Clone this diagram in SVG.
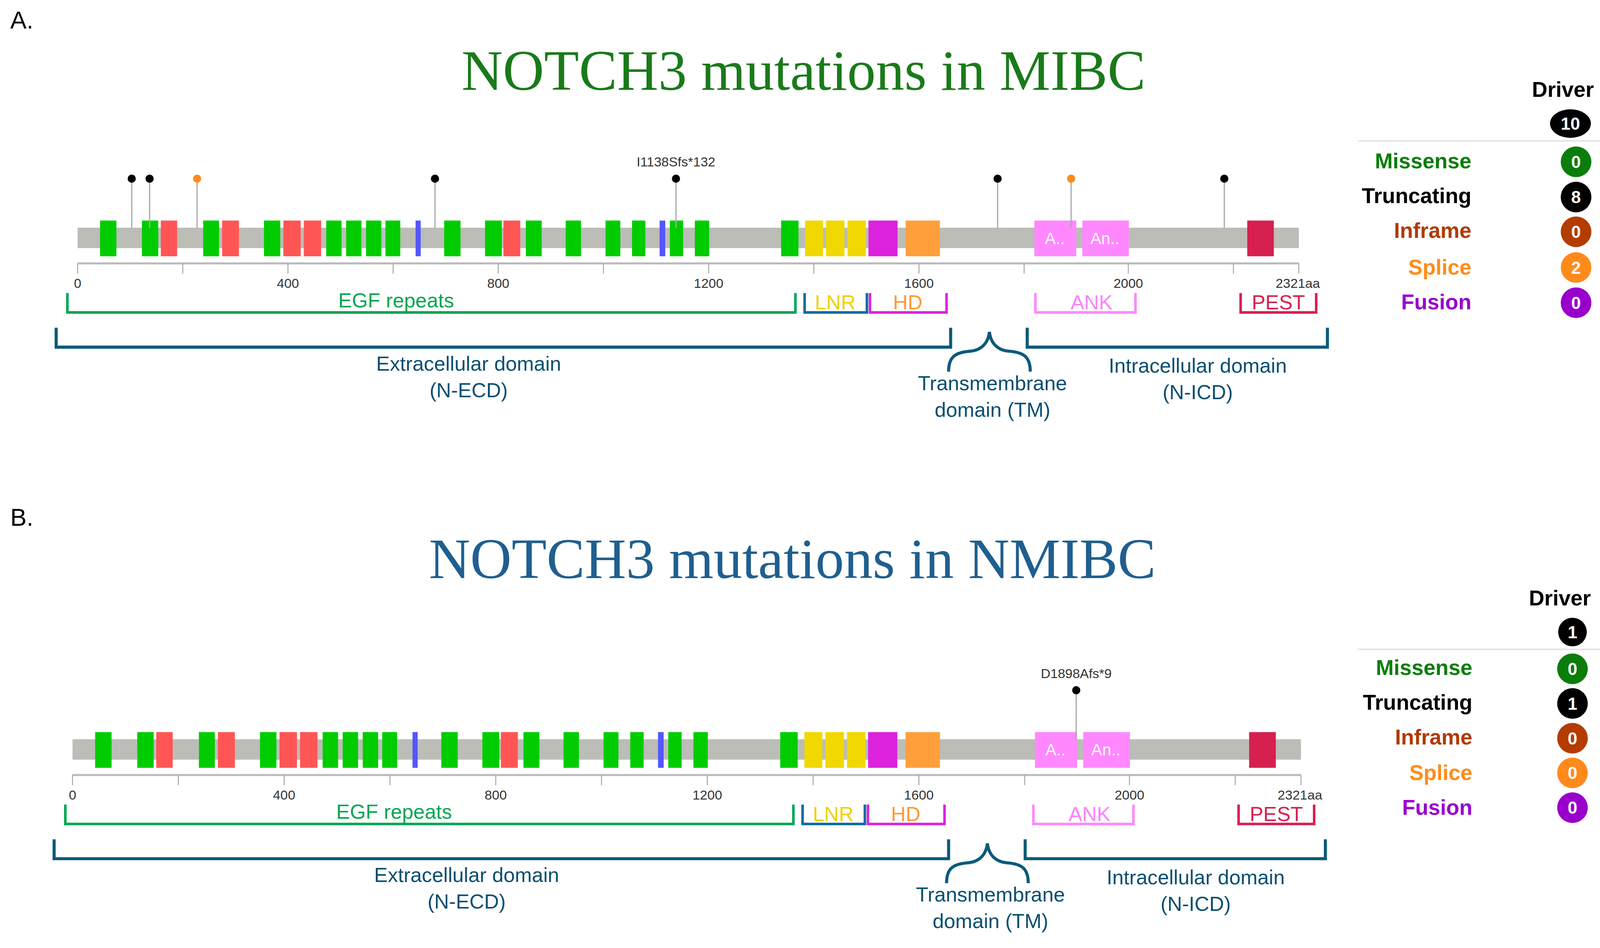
<svg xmlns="http://www.w3.org/2000/svg" xmlns:xlink="http://www.w3.org/1999/xlink" width="4133" height="2427" viewBox="0 0 4133 2427">
<style>
.t{font-family:"Liberation Sans",Arial,sans-serif}
.ttl{font-family:"Liberation Serif","Times New Roman",serif;font-size:56px;text-anchor:middle}
.g{fill:#00cc00}.r{fill:#ff5555}.b{fill:#5555ff}
.ax{font-family:"Liberation Sans",Arial,sans-serif;font-size:13px;fill:#333;text-anchor:middle}
.stem{stroke:#aaaaaa;stroke-width:1.2}
.br{fill:none;stroke-width:2.5}
.big{fill:none;stroke:#0b5a7a;stroke-width:3}
.dt{font-family:"Liberation Sans",Arial,sans-serif;font-size:20px;fill:#0a4f70;text-anchor:middle}
.lg{font-family:"Liberation Sans",Arial,sans-serif;font-size:21px;font-weight:bold;text-anchor:end}
.cn{font-family:"Liberation Sans",Arial,sans-serif;font-size:17px;font-weight:bold;fill:#fff;text-anchor:middle}
</style>
<defs>
<g id="body">
<rect x="76" y="223" width="1196" height="20" fill="#bbbdb6"/>
<rect class="g" x="98" y="216" width="16" height="35"/>
<rect class="g" x="139" y="216" width="16" height="35"/>
<rect class="r" x="157.5" y="216" width="16" height="35"/>
<rect class="g" x="199" y="216" width="15.5" height="35"/>
<rect class="r" x="217.5" y="216" width="16.5" height="35"/>
<rect class="g" x="258.5" y="216" width="16" height="35"/>
<rect class="r" x="277.5" y="216" width="17" height="35"/>
<rect class="r" x="297.5" y="216" width="17" height="35"/>
<rect class="g" x="319.5" y="216" width="15" height="35"/>
<rect class="g" x="339" y="216" width="15" height="35"/>
<rect class="g" x="358.5" y="216" width="15" height="35"/>
<rect class="g" x="377.5" y="216" width="14.5" height="35"/>
<rect class="b" x="407" y="216" width="5" height="35"/>
<rect class="g" x="435" y="216" width="16" height="35"/>
<rect class="g" x="475" y="216" width="16.5" height="35"/>
<rect class="r" x="493" y="216" width="16.5" height="35"/>
<rect class="g" x="515" y="216" width="15.5" height="35"/>
<rect class="g" x="554" y="216" width="15" height="35"/>
<rect class="g" x="593" y="216" width="14.5" height="35"/>
<rect class="g" x="619" y="216" width="13" height="35"/>
<rect class="b" x="646" y="216" width="5.5" height="35"/>
<rect class="g" x="656" y="216" width="13" height="35"/>
<rect class="g" x="680.5" y="216" width="14" height="35"/>
<rect class="g" x="765" y="216" width="17" height="35"/>
<rect x="788.5" y="216" width="17.5" height="35" fill="#f0d800"/>
<rect x="809" y="216" width="18" height="35" fill="#f0d800"/>
<rect x="830" y="216" width="18" height="35" fill="#f0d800"/>
<rect x="850.5" y="216" width="28.5" height="35" fill="#dd22dd"/>
<rect x="887" y="216" width="33.5" height="35" fill="#ff9f3c"/>
<rect x="1013" y="216" width="41" height="35" fill="#ff88ff"/>
<rect x="1060" y="216" width="45.5" height="35" fill="#ff88ff"/>
<text class="t" x="1033" y="239" font-size="16" fill="#fff" text-anchor="middle">A..</text>
<text class="t" x="1082" y="239" font-size="16" fill="#fff" text-anchor="middle">An..</text>
<rect x="1221.5" y="216" width="26" height="35" fill="#d62050"/>
<line x1="76" y1="258" x2="1272" y2="258" stroke="#bbbbbb" stroke-width="2"/>
<path d="M76 258V268M179 258V268M282 258V268M385 258V268M488 258V268M591 258V268M694 258V268M797 258V268M900 258V268M1003 258V268M1105 258V268M1208 258V268M1272 258V268" stroke="#aaaaaa" stroke-width="1"/>
<text class="ax" x="76" y="282">0</text>
<text class="ax" x="282" y="282">400</text>
<text class="ax" x="488" y="282">800</text>
<text class="ax" x="694" y="282">1200</text>
<text class="ax" x="900" y="282">1600</text>
<text class="ax" x="1105" y="282">2000</text>
<text class="ax" x="1271" y="282">2321aa</text>
</g>
<g id="doms">
<path class="br" stroke="#00a650" d="M66 287V306H779V287"/>
<text class="t" x="388" y="301" font-size="20" fill="#00a650" text-anchor="middle">EGF repeats</text>
<path class="br" stroke="#0a6e9e" d="M788 287V306H849V287"/>
<text class="t" x="818" y="303" font-size="20" fill="#f0d000" text-anchor="middle">LNR</text>
<path class="br" stroke="#dd22dd" d="M852 287V306H927V287"/>
<text class="t" x="889" y="303" font-size="20" fill="#ff9933" text-anchor="middle">HD</text>
<path class="br" stroke="#ff88ff" d="M1014 287V306H1112V287"/>
<text class="t" x="1069" y="303" font-size="20" fill="#ff80ff" text-anchor="middle">ANK</text>
<path class="br" stroke="#d62050" d="M1215 287V306H1289V287"/>
<text class="t" x="1252" y="303" font-size="20" fill="#d62050" text-anchor="middle">PEST</text>
<path class="big" d="M55 321V340H931V321"/>
<path class="big" d="M1006 321V340H1300V321"/>
<path class="big" d="M929 364C929 350 935 345 950 344C962 343 968 335 969 325C970 335 976 343 988 344C1003 345 1009 350 1009 364"/>
<text class="dt" x="459" y="363">Extracellular domain</text>
<text class="dt" x="459" y="389">(N-ECD)</text>
<text class="dt" x="972" y="382">Transmembrane</text>
<text class="dt" x="972" y="408">domain (TM)</text>
<text class="dt" x="1173" y="365">Intracellular domain</text>
<text class="dt" x="1173" y="391">(N-ICD)</text>
</g>
</defs>
<rect width="4133" height="2427" fill="#fff"/>
<g transform="scale(2.614)">
<g id="panelA">
<text class="t" x="10" y="28" font-size="24" fill="#000">A.</text>
<text class="ttl" x="787" y="88" fill="#1a7a1a" textLength="670" lengthAdjust="spacingAndGlyphs">NOTCH3 mutations in MIBC</text>
<g id="proteinA"><use xlink:href="#body"/><use xlink:href="#doms"/></g>
<g id="mutationsA">
<path class="stem" d="M129 176V223M146.5 176V223M193 176V223M426 176V223M662 176V223M977 176V223M1049 176V223M1199 176V223"/>
<circle cx="129" cy="175" r="4"/><circle cx="146.5" cy="175" r="4"/>
<circle cx="193" cy="175" r="4" fill="#ff8c1a"/>
<circle cx="426" cy="175" r="4"/><circle cx="662" cy="175" r="4"/>
<circle cx="977" cy="175" r="4"/>
<circle cx="1049" cy="175" r="4" fill="#ff8c1a"/>
<circle cx="1199" cy="175" r="4"/>
<text class="t" x="662" y="163" font-size="13" fill="#333" text-anchor="middle">I1138Sfs*132</text>
</g>
<g id="legendA">
<text class="t" x="1561" y="95" font-size="21" font-weight="bold" text-anchor="end">Driver</text>
<ellipse cx="1538" cy="121" rx="20" ry="14"/>
<text class="cn" x="1538" y="127">10</text>
<line x1="1330" y1="138" x2="1568" y2="138" stroke="#e4e4e4" stroke-width="1.5"/>
<text class="lg" x="1441" y="165" fill="#0a7d0a">Missense</text>
<text class="lg" x="1441" y="199" fill="#000">Truncating</text>
<text class="lg" x="1441" y="233" fill="#b03a00">Inframe</text>
<text class="lg" x="1441" y="269" fill="#ff8c1a">Splice</text>
<text class="lg" x="1441" y="303" fill="#9900cc">Fusion</text>
<circle cx="1543.5" cy="158.5" r="15" fill="#0b7d0b"/><text class="cn" x="1543.5" y="164.5">0</text>
<circle cx="1543.5" cy="193" r="15" fill="#000"/><text class="cn" x="1543.5" y="199">8</text>
<circle cx="1543.5" cy="227" r="15" fill="#b33c00"/><text class="cn" x="1543.5" y="233">0</text>
<circle cx="1543.5" cy="262" r="15" fill="#ff8a1c"/><text class="cn" x="1543.5" y="268">2</text>
<circle cx="1543.5" cy="296.5" r="15" fill="#9900cc"/><text class="cn" x="1543.5" y="302.5">0</text>
</g>
</g>
<g id="panelB">
<text class="t" x="10" y="515" font-size="24" fill="#000">B.</text>
<text class="ttl" x="776" y="566" fill="#1f5f8f" textLength="712" lengthAdjust="spacingAndGlyphs">NOTCH3 mutations in NMIBC</text>
<g id="proteinB">
<use xlink:href="#body" transform="translate(-5.4,501) scale(1.0059,1)"/>
<use xlink:href="#doms" transform="translate(-2,501)"/>
</g>
<g id="mutationsB">
<path class="stem" d="M1054 677V724"/>
<circle cx="1054" cy="676" r="4"/>
<text class="t" x="1054" y="664" font-size="13" fill="#333" text-anchor="middle">D1898Afs*9</text>
</g>
<g id="legendB">
<text class="t" x="1558" y="593" font-size="21" font-weight="bold" text-anchor="end">Driver</text>
<circle cx="1540" cy="619" r="14"/>
<text class="cn" x="1540" y="625">1</text>
<line x1="1330" y1="636" x2="1568" y2="636" stroke="#e4e4e4" stroke-width="1.5"/>
<text class="lg" x="1442" y="661" fill="#0a7d0a">Missense</text>
<text class="lg" x="1442" y="695" fill="#000">Truncating</text>
<text class="lg" x="1442" y="729" fill="#b03a00">Inframe</text>
<text class="lg" x="1442" y="764" fill="#ff8c1a">Splice</text>
<text class="lg" x="1442" y="798" fill="#9900cc">Fusion</text>
<circle cx="1540" cy="655" r="15" fill="#0b7d0b"/><text class="cn" x="1540" y="661">0</text>
<circle cx="1540" cy="689" r="15" fill="#000"/><text class="cn" x="1540" y="695">1</text>
<circle cx="1540" cy="723" r="15" fill="#b33c00"/><text class="cn" x="1540" y="729">0</text>
<circle cx="1540" cy="757" r="15" fill="#ff8a1c"/><text class="cn" x="1540" y="763">0</text>
<circle cx="1540" cy="791" r="15" fill="#9900cc"/><text class="cn" x="1540" y="797">0</text>
</g>
</g>
</g>
</svg>
